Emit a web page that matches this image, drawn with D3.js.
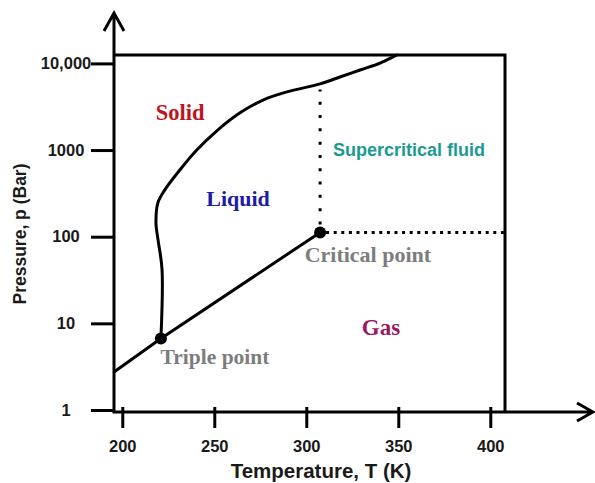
<!DOCTYPE html>
<html>
<head>
<meta charset="utf-8">
<script src="https://cdn.jsdelivr.net/npm/d3@7"></script>
<style>
	body { margin: 0; background: #fff; }
	svg { display: block; }
</style>
</head>
<body>
<div id="container"></div>
<script>

// ==============
//	DATA
// ==============

var tempTicks = [200, 250, 300, 350, 400];
var pressTicks = [1, 10, 100, 1000, 10000];
var pressLabels = ["1", "10", "100", "1000", "10,000"];

// solid-liquid boundary (melting curve)
var meltT = [221.0, 221.6, 219.4, 218.3, 219.4, 223.2, 231.4, 240.6, 252.0, 264.0, 276.5, 289.5, 307.5, 318.3, 329.2, 340.1, 347.1, 349.3];
var meltP = [6.7, 42, 93, 146, 248, 349, 593, 1007, 1713, 2690, 3780, 4690, 5800, 6970, 8400, 10100, 11850, 12500];

// solid-gas + liquid-gas boundary
var vapT = [195.5, 221.0, 307.5];
var vapP = [2.74, 6.7, 112];

var triplePoint = [221.0, 6.7];
var criticalPoint = [307.5, 112];
var dottedTopP = 5000;

// region / point labels
var labelText = ["Solid", "Liquid", "Supercritical fluid", "Gas", "Critical point", "Triple point"];
var labelT = [231.4, 262.9, 355.8, 340.6, 333.5, 250.4];
var labelP = [2233, 229, 860, 7.3, 50.5, 3.38];

// ==============
//	OPTIONS
// ==============

var width = 595, height = 483;
var axisX = 114, axisY = 412;
var boxRight = 408, boxTopP = 12500;

var colLine = "#000",
	colText = "#1a1a1a",
	serif = "'Liberation Serif', 'Times New Roman', serif",
	sans = "'Liberation Sans', Arial, sans-serif",
	labelStyle = [
		{color: "#c0141e", font: "bold 22.5px " + serif},
		{color: "#1c1ca6", font: "bold 22px " + serif},
		{color: "#1c9a92", font: "bold 18px " + sans},
		{color: "#9b1a5e", font: "bold 23px " + serif},
		{color: "#7d7d7d", font: "bold 22px " + serif},
		{color: "#7d7d7d", font: "bold 21.5px " + serif}
	];

var x = d3.scaleLinear().domain([195.5, 408]).range([axisX, 505]);
var y = d3.scaleLog().domain([1, 10000]).range([410, 63.4]);

var svg = d3.select("#container").append("svg")
	.attr("width", width)
	.attr("height", height);

// ==============
//	BOX + AXES
// ==============

// top and right border of the diagram
svg.append("path")
	.attr("d", "M" + axisX + "," + y(boxTopP) + "H" + x(boxRight) + "V" + axisY)
	.attr("fill", "none")
	.attr("stroke", colLine)
	.attr("stroke-width", 3);

// axis lines with open arrow heads
svg.append("path")
	.attr("d", "M" + axisX + "," + axisY + "V13 M104,31 L" + axisX + ",13 L124,31")
	.attr("fill", "none")
	.attr("stroke", colLine)
	.attr("stroke-width", 3);

svg.append("path")
	.attr("d", "M" + (axisX - 1.5) + "," + axisY + "H593 M577,403 L593," + axisY + " L577,421")
	.attr("fill", "none")
	.attr("stroke", colLine)
	.attr("stroke-width", 3);

var gx = svg.append("g")
	.attr("transform", "translate(0," + axisY + ")")
	.call(d3.axisBottom(x).tickValues(tempTicks).tickSize(16).tickPadding(12));
gx.select(".domain").remove();
gx.selectAll(".tick line")
	.attr("y1", -5)
	.attr("stroke", colLine)
	.attr("stroke-width", 3);
gx.selectAll(".tick text")
	.style("font", "bold 16.5px " + sans)
	.attr("fill", colText);

var gy = svg.append("g")
	.attr("transform", "translate(" + axisX + ",0)")
	.call(d3.axisLeft(y).tickValues(pressTicks).tickFormat((d, i) => pressLabels[i]).tickSize(23));
gy.select(".domain").remove();
gy.selectAll(".tick line")
	.attr("stroke", colLine)
	.attr("stroke-width", 3);
gy.selectAll(".tick text")
	.attr("x", 66 - axisX)
	.attr("text-anchor", "middle")
	.style("font", "bold 16.5px " + sans)
	.attr("fill", colText);

svg.append("text")
	.attr("x", 321)
	.attr("y", 478)
	.attr("text-anchor", "middle")
	.style("font", "bold 20.5px " + sans)
	.attr("fill", colText)
	.text("Temperature, T (K)");

svg.append("text")
	.attr("transform", "translate(26,234) rotate(-90)")
	.attr("text-anchor", "middle")
	.style("font", "bold 17.5px " + sans)
	.attr("fill", colText)
	.text("Pressure, p (Bar)");

// ==============
//	PHASE LINES
// ==============

var line = d3.line()
	.x(d => x(d[0]))
	.y(d => y(d[1]));

svg.append("path")
	.datum(meltT.map((t, i) => [t, meltP[i]]))
	.attr("d", line.curve(d3.curveCatmullRom.alpha(0.5)))
	.attr("fill", "none")
	.attr("stroke", colLine)
	.attr("stroke-width", 3)
	.attr("stroke-linecap", "round");

svg.append("path")
	.datum(vapT.map((t, i) => [t, vapP[i]]))
	.attr("d", d3.line().x(d => x(d[0])).y(d => y(d[1])))
	.attr("fill", "none")
	.attr("stroke", colLine)
	.attr("stroke-width", 3);

// dotted lines out of the critical point
svg.append("line")
	.attr("x1", x(criticalPoint[0]) + 6)
	.attr("x2", x(boxRight))
	.attr("y1", y(criticalPoint[1]))
	.attr("y2", y(criticalPoint[1]))
	.attr("stroke", colLine)
	.attr("stroke-width", 3)
	.attr("stroke-dasharray", "3,4.6");

svg.append("line")
	.attr("x1", x(criticalPoint[0]))
	.attr("x2", x(criticalPoint[0]))
	.attr("y1", y(criticalPoint[1]) - 8)
	.attr("y2", y(dottedTopP))
	.attr("stroke", colLine)
	.attr("stroke-width", 3)
	.attr("stroke-dasharray", "3,10.3");

svg.append("g")
	.selectAll("circle")
	.data([triplePoint, criticalPoint])
	.join("circle")
	.attr("cx", d => x(d[0]))
	.attr("cy", d => y(d[1]))
	.attr("r", 6)
	.attr("fill", colLine);

// ==============
//	LABELS
// ==============

svg.append("g")
	.selectAll("text")
	.data(labelText)
	.join("text")
	.attr("x", (d, i) => x(labelT[i]))
	.attr("y", (d, i) => y(labelP[i]))
	.attr("text-anchor", "middle")
	.style("font", (d, i) => labelStyle[i].font)
	.attr("fill", (d, i) => labelStyle[i].color)
	.text(d => d);

</script>
</body>
</html>
